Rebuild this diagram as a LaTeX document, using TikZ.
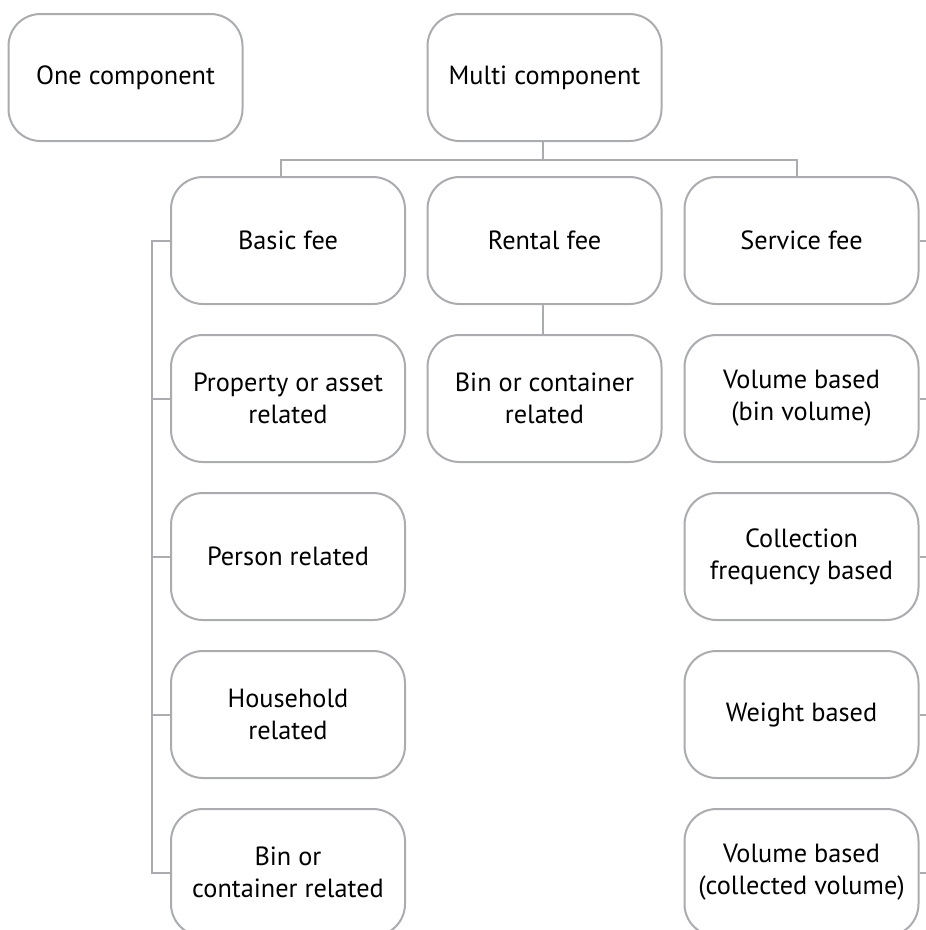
\documentclass[tikz,border=0pt]{standalone}
\usepackage{fontspec}
\setmainfont{PT Sans}
\usetikzlibrary{calc}
\definecolor{linegray}{HTML}{ABACAF}
\tikzset{
  fbox/.style={draw=linegray, line width=2pt, rounded corners=32pt, fill=white,
    minimum width=234pt, minimum height=127pt, align=center, inner sep=0pt,
    font=\fontsize{26.3}{32}\selectfont, text=black},
  conn/.style={draw=linegray, line width=2pt}
}
\begin{document}
\begin{tikzpicture}[x=1pt,y=-1pt]
\useasboundingbox (0,0) rectangle (926,930);
\clip (0,0) rectangle (926,930);
\node[fbox] (one) at (125.5,77.5) {One component};
\node[fbox] (multi) at (544.5,77.5) {Multi component};
\node[fbox] (basic) at (288,240.5) {Basic fee};
\node[fbox] (rental) at (544.5,240.5) {Rental fee};
\node[fbox] (service) at (801.5,240.5) {Service fee};
\node[fbox] (prop) at (288,398.5) {Property or asset\\related};
\node[fbox] (person) at (288,556.5) {Person related};
\node[fbox] (house) at (288,714.5) {Household\\related};
\node[fbox] (binb) at (288,872.5) {Bin or\\container related};
\node[fbox] (binr) at (544.5,398.5) {Bin or container\\related};
\node[fbox] (volb) at (801.5,398.5) {Volume based\\(bin volume)};
\node[fbox] (freq) at (801.5,556.5) {Collection\\frequency based};
\node[fbox] (weight) at (801.5,714.5) {Weight based};
\node[fbox] (volc) at (801.5,872.5) {Volume based\\(collected volume)};
% top connectors
\coordinate (hl) at (281,160);
\coordinate (hr) at (797,160);
\draw[conn] (basic.north -| hl) -- (hl) -- (hr) -- (service.north -| hr);
\draw[conn] (multi.south -| 543,0) -- (543,160);
\draw[conn] (rental.south -| 543,0) -- (binr.north -| 543,0);
% left bracket
\coordinate (lb) at (152,0);
\draw[conn] (basic.west) -- (basic.west -| lb) -- (binb.west -| lb) -- (binb.west);
\foreach \n in {prop,person,house}{
  \draw[conn] (\n.west) -- (\n.west -| lb);
}
% right stubs
\coordinate (rb) at (940,0);
\foreach \n in {service,volb,freq,weight,volc}{
  \draw[conn] (\n.east) -- (\n.east -| rb);
}
\end{tikzpicture}
\end{document}
